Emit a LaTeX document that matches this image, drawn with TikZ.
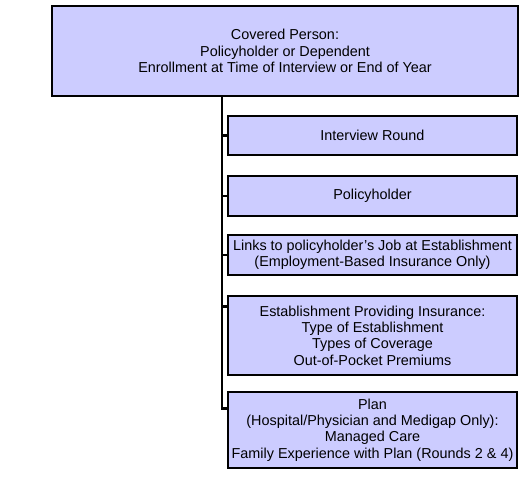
\documentclass[tikz,border=0pt]{standalone}
\usepackage{fontspec}
\setmainfont{Liberation Sans}
\usepackage{xcolor}
\usetikzlibrary{positioning}
\definecolor{boxfill}{HTML}{CCCCFF}

\begin{document}
\begin{tikzpicture}[x=1pt,y=-1pt,
  box/.style={draw,line width=2.6pt,fill=boxfill,align=center,inner sep=0pt,
    font=\fontsize{14.4}{16.4}\selectfont},
  link/.style={line width=2.6pt}]
\useasboundingbox (0,0) rectangle (526,476);
% covered person
\node[box,minimum width=466pt,minimum height=90pt] (person) at (285,51)
  {Covered Person:\\Policyholder or Dependent\\Enrollment at Time of Interview or End of Year};
% linked records
\node[box,minimum width=289pt,minimum height=39pt] (round) at (372.5,135.5) {Interview Round};
\node[box,minimum width=289pt,minimum height=40pt] (holder) at (372.5,196) {Policyholder};
\node[box,minimum width=289pt,minimum height=40pt] (job) at (372.5,255)
  {Links to policyholder's Job at Establishment\\(Employment-Based Insurance Only)};
\node[box,minimum width=289pt,minimum height=79pt] (estab) at (372.5,335.5)
  {Establishment Providing Insurance:\\Type of Establishment\\Types of Coverage\\Out-of-Pocket Premiums};
\node[box,minimum width=289pt,minimum height=76pt] (plan) at (372.5,430)
  {Plan\\(Hospital/Physician and Medigap Only):\\Managed Care\\Family Experience with Plan (Rounds 2 \& 4)};
% connectors
\coordinate (trunk) at (222,96);
\coordinate (estabin) at ([yshift=-12pt]estab.north west);
\coordinate (planin) at ([yshift=-18pt]plan.north west);
\draw[link] (trunk) |- (planin);
\draw[link] (trunk |- round.west) -- (round.west);
\draw[link] (trunk |- holder.west) -- (holder.west);
\draw[link] (trunk |- job.west) -- (job.west);
\draw[link] (trunk |- estabin) -- (estabin);
\end{tikzpicture}
\end{document}
